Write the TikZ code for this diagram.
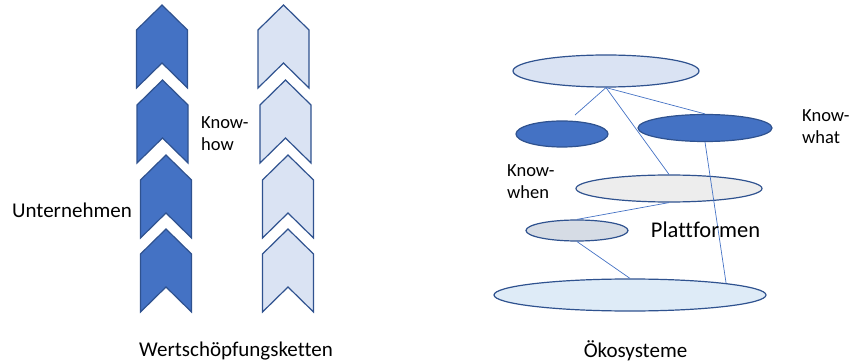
\documentclass[tikz,border=0pt]{standalone}
\usepackage{fontspec}
\setmainfont{Carlito}[Ligatures=CommonOff]
\usepackage{tikz}
\usetikzlibrary{shapes.geometric}
\definecolor{chevdark}{HTML}{4472C4}
\definecolor{chevedge}{HTML}{2F528F}
\definecolor{chevlight}{HTML}{DAE3F3}
\definecolor{ellgray}{HTML}{EDEDED}
\definecolor{ellslate}{HTML}{D6DCE5}
\definecolor{ellpale}{HTML}{DEEBF7}

\begin{document}
\begin{tikzpicture}
  [x=1pt,y=-1pt,
   pics/chevron/.style={code={
     \path[draw=chevedge,line width=1.2pt,line join=miter,pic actions]
       (0,0) -- (25.5,25) -- (25.5,83) -- (0,58) -- (-25.5,83) -- (-25.5,25) -- cycle;}},
   firm/.style={fill=chevdark},
   partner/.style={fill=chevlight},
   platform/.style={ellipse,draw=chevedge,line width=1.2pt,inner sep=0},
   label/.style={font=\fontsize{21}{23}\selectfont,align=left,inner sep=0},
   know/.style={label,anchor=west,font=\fontsize{18.5}{22}\selectfont},
   link/.style={draw=chevdark,line width=0.7pt}]
  \useasboundingbox (0,0) rectangle (853,363);
  % value chains
  \pic[firm] (firm1) at (162,5) {chevron};
  \pic[firm] (firm2) at (162.5,80) {chevron};
  \pic[firm] (firm3) at (166,155) {chevron};
  \pic[firm] (firm4) at (166,229) {chevron};
  \pic[partner] (partner1) at (283.5,5) {chevron};
  \pic[partner] (partner2) at (285.5,80) {chevron};
  \pic[partner] (partner3) at (288,155) {chevron};
  \pic[partner] (partner4) at (288,229) {chevron};
  \node[know] (knowhow) at (201,134) {Know-\\how};
  \node[label] (firms) at (72,210) {Unternehmen};
  \node[label] (chains) at (236,351) {Wertschöpfungsketten};
  % ecosystem
  \node[platform,fill=chevlight,minimum width=186pt,minimum height=32pt] (top) at (606,71) {};
  \node[platform,fill=chevdark,minimum width=92pt,minimum height=26pt] (when) at (562,134) {};
  \node[platform,fill=chevdark,minimum width=134pt,minimum height=27pt] (what) at (705,128) {};
  \node[platform,fill=ellgray,minimum width=186pt,minimum height=27pt] (mid) at (669,188.5) {};
  \node[platform,fill=ellslate,minimum width=102pt,minimum height=21pt] (small) at (577,230.5) {};
  \node[platform,fill=ellpale,minimum width=272pt,minimum height=32pt] (bottom) at (630,295) {};
  \coordinate (loose) at (575,115);
  \draw[link] (top.south) -- (loose);
  \draw[link] (top.south) -- (what.north);
  \draw[link] (top.south) -- (mid.north);
  \draw[link] (what.south) -- (bottom.7);
  \draw[link] (mid.south) -- (small.north);
  \draw[link] (small.south) -- (bottom.north);
  \node[know] (knowwhen) at (507,182) {Know-\\when};
  \node[know] (knowwhat) at (802,127) {Know-\\what};
  \node[label,font=\fontsize{22.5}{25}\selectfont] (plattform) at (705.5,230) {Plattformen};
  \node[label] (eco) at (635.5,351) {Ökosysteme};
\end{tikzpicture}
\end{document}
